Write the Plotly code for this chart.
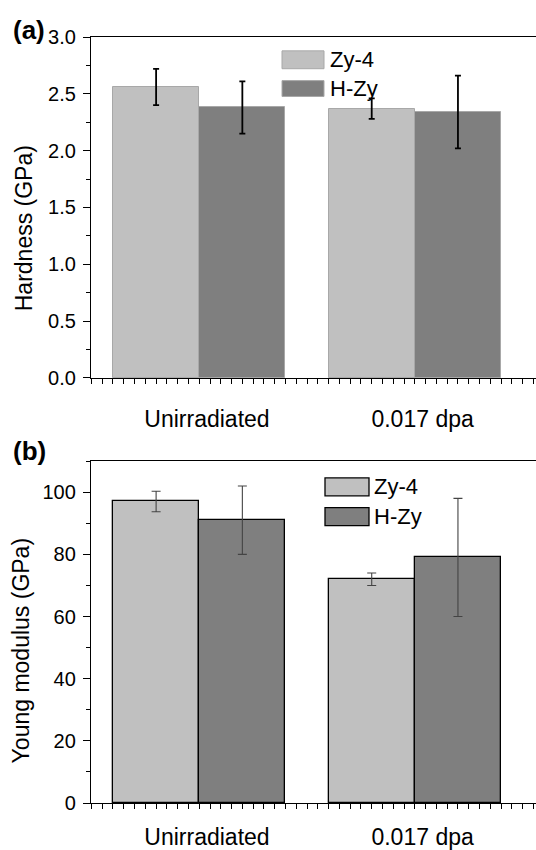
import plotly.graph_objects as go
from plotly.subplots import make_subplots

# ---- data ----
categories = ["Unirradiated", "0.017 dpa"]
series_names = ["Zy-4", "H-Zy"]
hardness = {"Zy-4": [2.56, 2.37], "H-Zy": [2.38, 2.34]}
hardness_err = {"Zy-4": [0.16, 0.09], "H-Zy": [0.23, 0.32]}
modulus = {"Zy-4": [97, 72], "H-Zy": [91, 79]}
modulus_err = {"Zy-4": [3.3, 2.0], "H-Zy": [11, 19]}
hard_ticks = [0.0, 0.5, 1.0, 1.5, 2.0, 2.5, 3.0]
mod_ticks = [0, 20, 40, 60, 80, 100]

# ---- layout helpers ----
W, H = 536, 850
ML, MR, MT, MB = 91, 0, 37, 40
PW, PH = W - ML - MR, H - MT - MB
def px(x):
    return (x - ML) / PW
def py(y):
    return (H - MB - y) / PH

FONT = "Liberation Sans, Arial, sans-serif"
fills = {"Zy-4": "#c0c0c0", "H-Zy": "#7f7f7f"}
group_step, bar_w = 2.5, 1.0
centers = [1.0 + i * group_step for i in range(len(categories))]

fig = make_subplots(rows=2, cols=1)

panels = [
    (1, hardness, hardness_err, dict(color="#a8a8a8", width=1), dict(color="black", thickness=1.8, width=3)),
    (2, modulus, modulus_err, dict(color="black", width=1.3), dict(color="#444444", thickness=1.1, width=4.5)),
]
for row, vals, errs, line, ebar in panels:
    for j, name in enumerate(series_names):
        xs = [c + (j - 0.5) * bar_w for c in centers]
        fig.add_trace(go.Bar(
            x=xs, y=vals[name], width=bar_w, name=name,
            marker=dict(color=fills[name], line=line),
            error_y=dict(type="data", array=errs[name], visible=True, **ebar),
            showlegend=False,
        ), row=row, col=1)

xr = [-0.255, 4.905]
label_pos = [c + 0.09 for c in centers]
for row, standoff in [(1, 20), (2, 13)]:
    fig.update_xaxes(
        range=xr, tickmode="array", tickvals=label_pos, ticktext=categories,
        ticks="", showline=True, linecolor="black", linewidth=1.3, mirror=True,
        showgrid=False, zeroline=False,
        tickfont=dict(family=FONT, size=23, color="black"),
        ticklabelstandoff=standoff,
        minor=dict(ticks="outside", ticklen=5, dtick=0.125, tick0=0, tickcolor="black", tickwidth=1.2, showgrid=False),
        row=row, col=1)

fig.update_yaxes(
    range=[0, 3.0], tickmode="array", tickvals=hard_ticks,
    ticktext=[f"{v:.1f}" for v in hard_ticks],
    ticks="outside", ticklen=7, tickwidth=1.2, tickcolor="black",
    showline=True, linecolor="black", linewidth=1.3, showgrid=False, zeroline=False,
    tickfont=dict(family=FONT, size=20, color="black"), ticklabelstandoff=3,
    minor=dict(ticks="outside", ticklen=4, dtick=0.25, tick0=0, tickcolor="black", tickwidth=1.2, showgrid=False),
    domain=[py(381), py(37)], row=1, col=1)
fig.update_yaxes(
    range=[0, 110], tickmode="array", tickvals=mod_ticks,
    ticks="outside", ticklen=7, tickwidth=1.2, tickcolor="black",
    showline=True, linecolor="black", linewidth=1.3, showgrid=False, zeroline=False,
    tickfont=dict(family=FONT, size=20, color="black"), ticklabelstandoff=3,
    minor=dict(ticks="outside", ticklen=4, dtick=10, tick0=0, tickcolor="black", tickwidth=1.2, showgrid=False),
    domain=[py(810), py(465)], row=2, col=1)

shapes = []
annotations = []
# legends (drawn as patches + text)
legend_specs = [
    (282, 324, [(51, 69), (81, 97)], 328, dict(color="#a8a8a8", width=1)),
    (325, 369, [(482, 500), (512, 530)], 372, dict(color="black", width=1.3)),
]
for x0, x1, rows, tx, ln in legend_specs:
    for (y0, y1), name in zip(rows, series_names):
        shapes.append(dict(type="rect", xref="paper", yref="paper",
                           x0=px(x0), x1=px(x1), y0=py(y1), y1=py(y0),
                           fillcolor=fills[name], line=ln, layer="above"))
        annotations.append(dict(text=name, xref="paper", yref="paper",
                                x=px(tx), y=py((y0 + y1) / 2), xanchor="left", yanchor="middle",
                                showarrow=False, font=dict(family=FONT, size=22, color="black")))

# y titles
annotations.append(dict(text="Hardness (GPa)", xref="paper", yref="paper", x=px(24), y=py(230),
                        textangle=-90, showarrow=False, xanchor="center", yanchor="middle",
                        font=dict(family=FONT, size=23, color="black")))
annotations.append(dict(text="Young modulus (GPa)", xref="paper", yref="paper", x=px(21), y=py(657),
                        textangle=-90, showarrow=False, xanchor="center", yanchor="middle",
                        font=dict(family=FONT, size=23, color="black")))
# panel labels
annotations.append(dict(text="<b>(a)</b>", xref="paper", yref="paper", x=px(11), y=py(30),
                        xanchor="left", yanchor="middle", showarrow=False,
                        font=dict(family=FONT, size=26, color="black")))
annotations.append(dict(text="<b>(b)</b>", xref="paper", yref="paper", x=px(11), y=py(455),
                        xanchor="left", yanchor="middle", showarrow=False,
                        font=dict(family=FONT, size=26, color="black")))

fig.update_layout(
    width=W, height=H, margin=dict(l=ML, r=MR, t=MT, b=MB),
    paper_bgcolor="white", plot_bgcolor="white",
    shapes=shapes, annotations=annotations, showlegend=False,
    bargap=0,
)
fig.write_html("out.html")
